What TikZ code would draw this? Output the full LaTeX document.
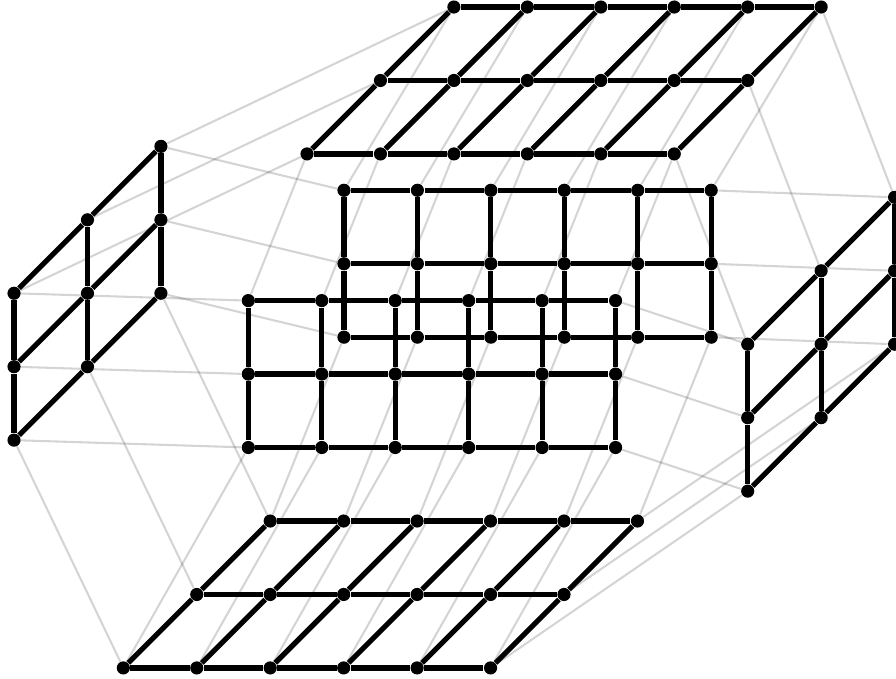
\documentclass[tikz,border=0pt]{standalone}
\usepackage{amsmath}
\usepackage{amssymb}

\begin{document}
\begin{tikzpicture}[
  vertex/.style={circle, fill, inner sep=0pt, minimum size=5.1pt},
  grid/.style={line width=2pt},
  link/.style={line width=0.8pt, draw opacity=0.17}]
 \useasboundingbox (0,0) rectangle (12.199,9.244);
 \begin{scope}[every node/.style={vertex}]
  % top, bottom
  \foreach \i in {0,...,5} \foreach \j in {0,1,2} {
   \node (t\i\j) at ({4.180+\i+\j},{7.148+\j}) {};
   \node (d\i\j) at ({1.679+\i+\j},{0.150+\j}) {};
  }
  % front, back
  \foreach \i in {0,...,5} \foreach \j in {0,1,2} {
   \node (f\i\j) at ({3.381+\i},{5.151-\j}) {};
   \node (b\i\j) at ({4.683+\i},{6.653-\j}) {};
  }
  % left, right
  \foreach \i in {0,1,2} \foreach \j in {0,1,2} {
   \node (l\i\j) at ({0.191+\i},{5.251+\i-\j}) {};
   \node (r\i\j) at ({10.180+\i},{4.557+\i-\j}) {};
  }
 \end{scope}
 % links between the faces
 \foreach \i in {0,...,5} {
  \path [link] (t\i0) edge (f\i0);
  \path [link] (t\i2) edge (b\i0);
  \path [link] (f\i2) edge (d\i0);
  \path [link] (b\i2) edge (d\i2);
 }
 \foreach \j in {0,1,2} {
  \path [link] (t0\j) edge (l\j0);
  \path [link] (t5\j) edge (r\j0);
  \path [link] (d0\j) edge (l\j2);
  \path [link] (d5\j) edge (r\j2);
  \path [link] (f0\j) edge (l0\j);
  \path [link] (f5\j) edge (r0\j);
  \path [link] (b0\j) edge (l2\j);
  \path [link] (b5\j) edge (r2\j);
 }
 % the grids
 \foreach \f in {t,d,f,b} {
  \foreach \i/\n in {0/1,1/2,2/3,3/4,4/5} \foreach \j in {0,1,2}
   \path [grid] (\f\i\j) edge (\f\n\j);
  \foreach \i in {0,...,5} \foreach \j/\n in {0/1,1/2}
   \path [grid] (\f\i\j) edge (\f\i\n);
 }
 \foreach \f in {l,r} {
  \foreach \i/\n in {0/1,1/2} \foreach \j in {0,1,2}
   \path [grid] (\f\i\j) edge (\f\n\j);
  \foreach \i in {0,1,2} \foreach \j/\n in {0/1,1/2}
   \path [grid] (\f\i\j) edge (\f\i\n);
 }
\end{tikzpicture}
\end{document}
